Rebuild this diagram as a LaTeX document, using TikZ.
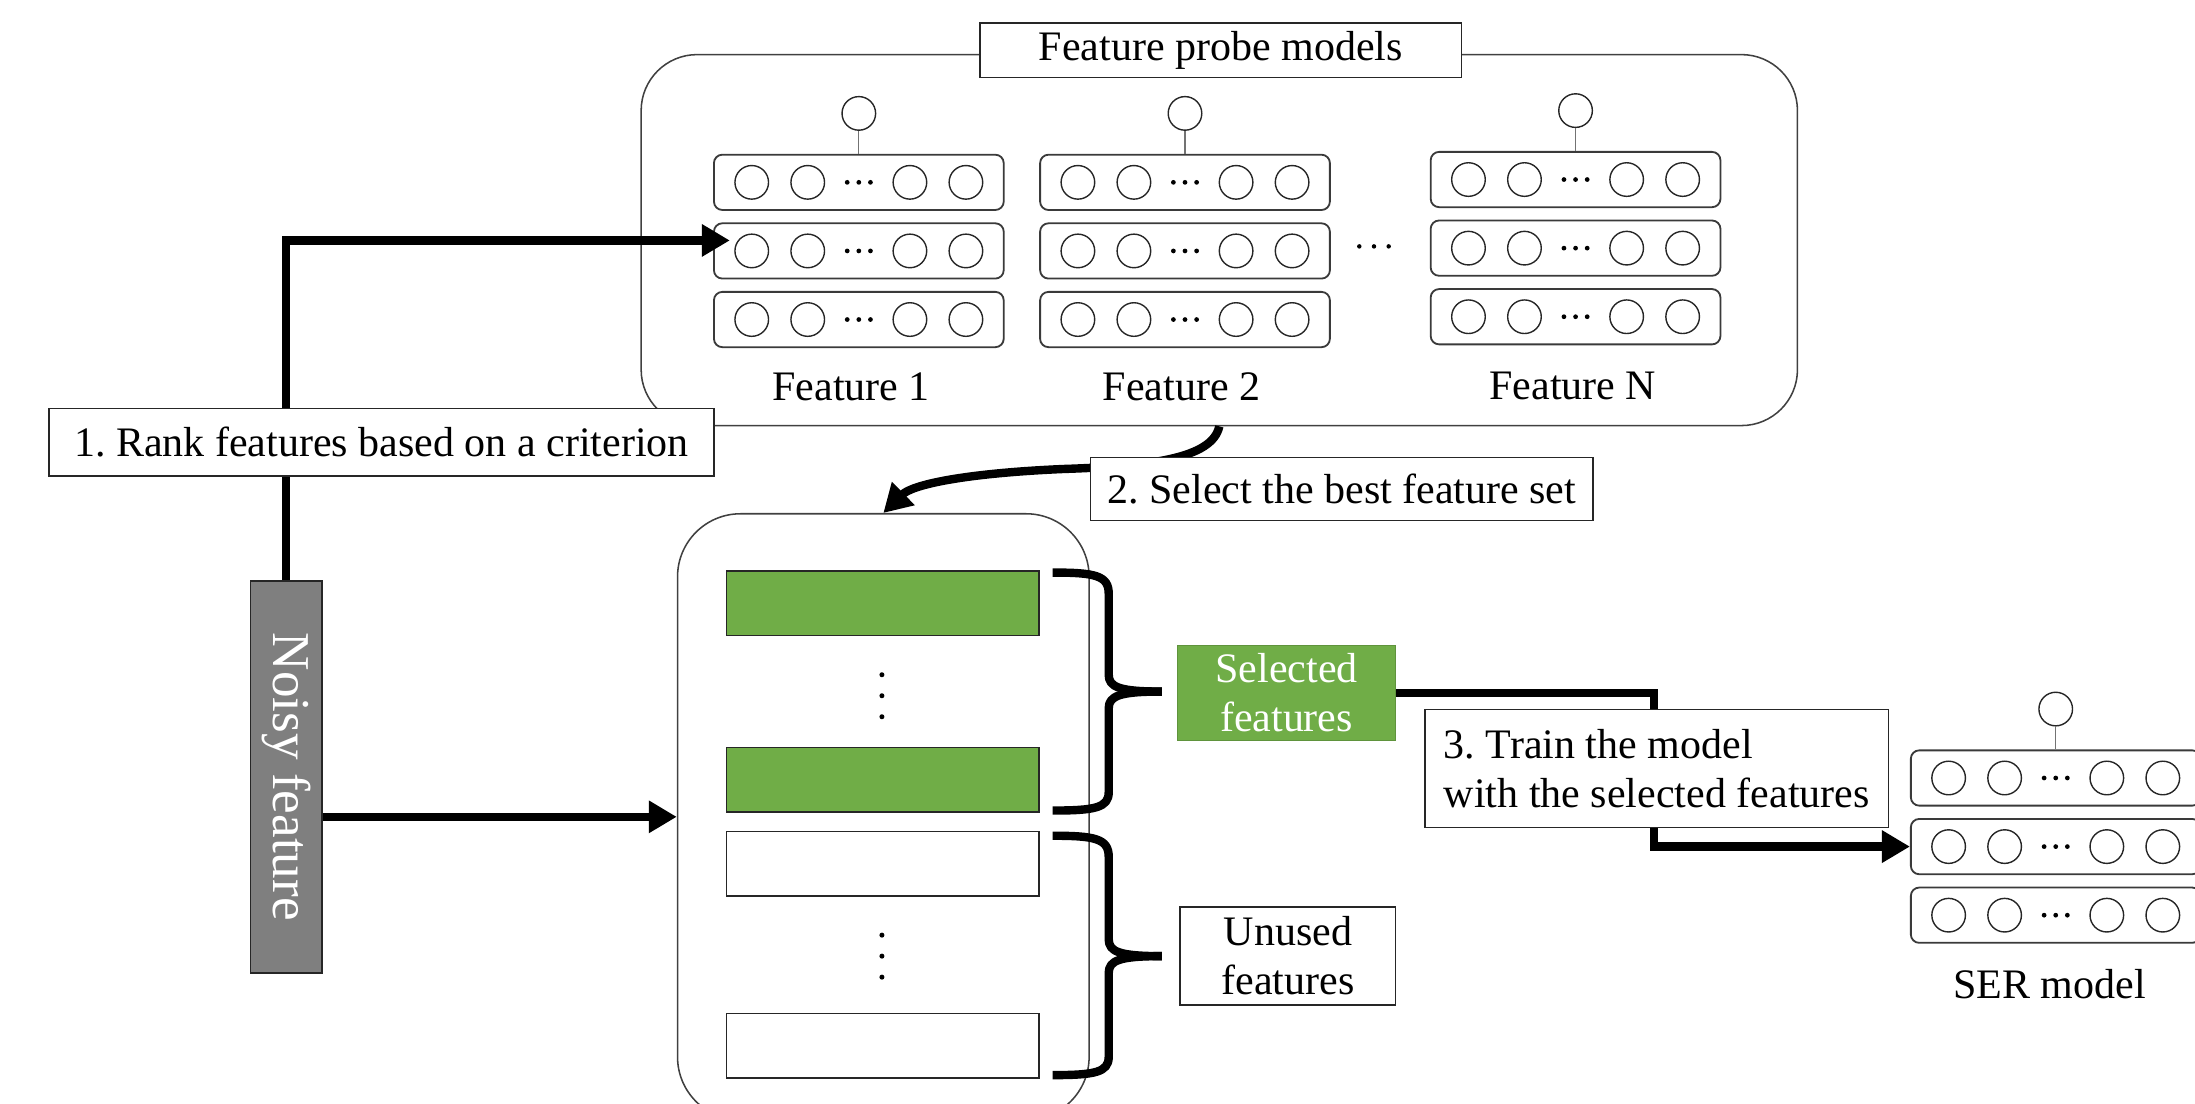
\documentclass[tikz,border=0pt]{standalone}
\usepackage{fontspec}
\setmainfont{Liberation Serif}
\usepackage{graphicx}
\usetikzlibrary{arrows.meta,calc}
\frenchspacing

\definecolor{selgreen}{HTML}{70AD47}
\definecolor{noisegray}{HTML}{7F7F7F}
\definecolor{edgegray}{HTML}{3A3A3A}

\tikzset{
  rowbox/.style={draw=edgegray, line width=1.3pt, rounded corners=6pt,
    minimum width=207pt, minimum height=39.5pt, inner sep=0pt},
  unit/.style={draw=black!85, line width=1pt, circle, minimum size=24pt, inner sep=0pt},
  stem/.style={draw=black!55, line width=0.9pt},
  frame/.style={draw=black!75, line width=1.1pt, rounded corners=40pt, inner sep=0pt},
  labelbox/.style={draw=black!85, line width=1pt, fill=white, inner sep=0pt,
    font=\fontsize{30}{35}\selectfont},
  plain/.style={inner sep=0pt, font=\fontsize{30}{35}\selectfont},
  flow/.style={line width=6pt, -{Triangle[length=20pt,width=22pt]}},
  brace/.style={line width=6pt, line join=round},
  bar/.style={draw=black!85, line width=1.2pt, minimum width=223pt,
    minimum height=46pt, inner sep=0pt},
}

% one probe network: name, left x, top y of the first layer
\newcommand{\probestack}[3]{%
  \foreach \rr in {1,2,3}{%
    \pgfmathsetmacro{\ry}{#3+19.75+(\rr-1)*49}%
    \node[rowbox] (#1-r\rr) at (#2+103.5,\ry) {};%
    \foreach \cn/\dx in {a/27,b/67,c/140,d/180}{%
      \node[unit] (#1-r\rr-\cn) at (#2+\dx,\ry) {};}%
    \foreach \dd in {-8.3,0,8.3}{%
      \fill (#2+103.5+\dd,\ry) circle (1.7pt);}%
  }%
  \node[unit] (#1-out) at (#2+103.5,#3-29.5) {};%
  \draw[stem] (#1-out) -- (#1-r1);%
}

\begin{document}
\begin{tikzpicture}[x=1pt,y=-1pt]
\path[use as bounding box] (0,0) rectangle (1568,788);
\clip (0,0) rectangle (1568,788);

% frames
\node[frame, minimum width=826pt, minimum height=265pt] (probebox) at (871,171.5) {};
\node[frame, rounded corners=45pt, minimum width=294pt, minimum height=433pt] (pool) at (631,583.5) {};

% probe networks
\probestack{p1}{510}{110.5}
\probestack{p2}{743}{110.5}
\probestack{pN}{1022}{108.5}
\probestack{ser}{1365}{536}

\foreach \dx in {-10.5,0,10.5}{\fill (981.5+\dx,176) circle (1.6pt);}

\node[plain] (f1lab) at (608,276) {Feature 1};
\node[plain] (f2lab) at (844,276) {Feature 2};
\node[plain] (fNlab) at (1123.5,276) {Feature N};
\node[plain] (serlab) at (1464,703) {SER model};

% feature pool
\node[bar, fill=selgreen] (bar1) at (630.5,431) {};
\node[bar, fill=selgreen] (bar2) at (630.5,557) {};
\node[bar, fill=white] (bar3) at (630.5,617) {};
\node[bar, fill=white] (bar4) at (630.5,747) {};
\foreach \yy in {482,497,512,668,683,698}{\fill (630,\yy) circle (1.8pt);}

% braces
\draw[brace] (752,409) .. controls (782,409) and (792,411) .. (792,424) -- (792,482)
  .. controls (792,491) and (800,494) .. (830,494);
\draw[brace] (830,494) .. controls (800,494) and (792,497) .. (792,506) -- (792,566)
  .. controls (792,577) and (782,579) .. (752,579);
\draw[brace] (752,597) .. controls (782,597) and (792,599) .. (792,612) -- (792,671)
  .. controls (792,680) and (800,683) .. (830,683);
\draw[brace] (830,683) .. controls (800,683) and (792,686) .. (792,695) -- (792,755)
  .. controls (792,766) and (782,768) .. (752,768);

\node[draw=selgreen!85!black, line width=1pt, fill=selgreen, text=white, align=center,
  minimum width=156pt, minimum height=68pt, inner sep=0pt,
  font=\fontsize{30}{35}\selectfont] (selected) at (919,495) {Selected\\features};
\node[labelbox, align=center, minimum width=154pt, minimum height=70pt]
  (unused) at (920,683) {Unused\\features};

% noisy input
\node[draw=black!85, line width=1pt, fill=noisegray, text=white, inner sep=0pt,
  minimum width=51pt, minimum height=280pt, font=\fontsize{38}{40}\selectfont]
  (noisy) at (204.5,555) {\rotatebox{-90}{Noisy feature}};

% flows
\coordinate (rankin) at ($(p1-r2.west)+(12,-7.5)$);
\draw[flow] (noisy.north) |- (rankin);
\draw[flow] (noisy.east |- pool.west) -- (pool.west);
\draw[flow] (probebox.south) .. controls (866,328) and (820,333) .. (760,335)
  .. controls (690,338) and (652,346) .. (pool.north);
\draw[flow] (selected.east) -- ++(184,0) |- (ser-r2.west);

% step labels
\node[labelbox, minimum width=344pt, minimum height=39pt] (title) at (872,36) {Feature probe models};
\node[labelbox, minimum width=475pt, minimum height=48pt] (rank) at (272.5,316) {1. Rank features based on a criterion};
\node[labelbox, minimum width=359pt, minimum height=45pt] (pick) at (958.5,349.5) {2. Select the best feature set};
\node[labelbox, align=left, minimum width=331pt, minimum height=84pt]
  (train) at (1183.5,549) {3. Train the model\\with the selected features};
\end{tikzpicture}
\end{document}
